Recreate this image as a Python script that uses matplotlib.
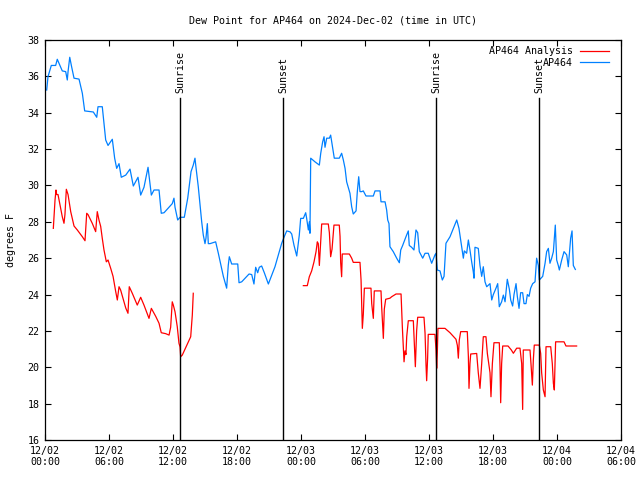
import numpy as np
import matplotlib
matplotlib.use("Agg")
import matplotlib.pyplot as plt
import matplotlib.dates as mdates
import pandas as pd

# hours since 2024-12-02 00:00 UTC
obs_hours = [0.16,0.28,0.59,1.0,1.15,1.62,1.94,2.09,2.16,2.32,2.47,2.72,3.19,3.5,3.72,4.53,4.85,4.97,5.37,5.69,5.91,6.31,6.53,6.72,6.94,7.15,7.57,7.97,8.28,8.72,8.97,9.28,9.66,9.97,10.22,10.69,10.9,11.16,11.93,12.09,12.19,12.44,12.66,13.06,13.38,13.69,13.9,14.06,14.13,14.37,14.69,14.84,15.0,15.09,15.22,15.31,15.47,16.0,16.25,16.72,17.03,17.18,17.28,17.5,18.07,18.19,18.44,19.13,19.38,19.59,19.75,19.94,20.09,20.31,20.56,20.94,21.56,22.19,22.43,22.66,22.97,23.13,23.34,23.6,23.84,23.97,24.22,24.44,24.53,24.69,24.78,24.84,24.87,24.91,25.31,25.72,25.85,26.03,26.16,26.25,26.41,26.66,26.78,26.97,27.12,27.59,27.81,27.97,28.13,28.28,28.59,28.75,28.9,29.16,29.28,29.41,29.53,29.69,29.84,30.09,30.78,30.94,31.41,31.5,31.88,32.03,32.13,32.25,32.34,32.65,32.97,33.22,33.35,33.53,33.84,34.06,34.15,34.37,34.59,34.78,34.94,35.09,35.41,35.63,35.93,36.25,36.56,36.66,36.78,37.03,37.25,37.41,37.59,37.97,38.28,38.6,38.81,39.06,39.22,39.31,39.53,39.69,39.84,40.0,40.15,40.22,40.31,40.62,40.78,40.94,41.09,41.25,41.41,41.72,41.88,42.03,42.28,42.44,42.59,42.81,42.97,43.13,43.34,43.53,43.66,43.84,43.97,44.16,44.28,44.44,44.59,44.78,44.91,45.09,45.22,45.38,45.53,45.72,45.94,46.09,46.25,46.34,46.66,46.88,47.03,47.19,47.34,47.5,47.66,47.84,47.97,48.12,48.22,48.44,48.66,48.91,49.06,49.28,49.41,49.53,49.72]
obs_dewpt = [35.25,35.98,36.6,36.6,36.94,36.3,36.26,35.8,36.26,37.05,36.6,35.9,35.85,35.07,34.1,34.04,33.75,34.33,34.33,32.5,32.2,32.54,31.5,30.94,31.2,30.45,30.57,30.9,29.97,30.45,29.47,29.9,31.0,29.47,29.75,29.75,28.47,28.5,29.0,29.3,28.8,28.1,28.25,28.25,29.3,30.76,31.12,31.5,31.12,29.93,28.0,27.27,26.8,27.1,27.9,26.8,26.8,26.9,26.27,25.0,24.35,25.6,26.08,25.68,25.68,24.65,24.7,25.13,25.1,24.58,25.5,25.2,25.5,25.57,25.2,24.58,25.53,26.82,27.18,27.5,27.45,27.33,26.72,26.12,27.27,28.19,28.19,28.5,28.19,27.55,28.0,27.37,29.38,31.5,31.3,31.12,31.77,32.4,32.68,32.1,32.6,32.6,32.77,32.04,31.5,31.5,31.77,31.4,30.94,30.2,29.57,28.83,28.43,28.6,29.66,30.48,29.66,29.66,29.7,29.42,29.42,29.7,29.7,29.1,29.1,28.65,28.1,27.9,26.63,26.36,26.0,25.75,26.45,26.7,27.18,27.5,26.7,26.6,26.45,27.55,27.4,26.36,26.0,26.27,26.27,25.72,26.18,26.27,25.35,25.3,24.8,25.0,26.82,27.18,27.64,28.1,27.64,26.63,26.0,26.4,26.27,27.0,26.45,25.8,25.26,24.9,26.6,26.54,25.6,25.0,25.53,24.7,24.43,24.6,23.7,24.0,24.35,24.6,23.33,23.6,23.97,23.6,24.84,24.3,23.7,23.37,24.0,24.6,23.9,23.24,24.1,24.1,23.5,23.5,24.0,23.9,24.35,24.6,24.7,26.0,25.6,24.8,25.0,25.72,26.36,26.54,25.72,26.0,26.36,27.82,25.9,25.6,25.35,25.9,26.36,26.18,25.53,27.1,27.5,25.6,25.38]

ana_hours = [0.78,0.84,0.94,1.03,1.09,1.22,1.62,1.78,1.87,2.0,2.16,2.41,2.72,3.03,3.5,3.75,3.91,4.03,4.43,4.75,4.9,5.06,5.22,5.37,5.53,5.75,5.91,6.16,6.38,6.63,6.78,6.94,7.09,7.41,7.57,7.78,7.9,8.19,8.65,8.97,9.28,9.75,9.97,10.38,10.69,10.9,11.31,11.63,11.78,11.93,12.03,12.19,12.4,12.56,12.66,12.72,12.87,13.66,13.81,13.9,
             19.0,
             24.22,24.59,24.78,25.0,25.22,25.41,25.53,25.62,25.72,25.78,25.88,25.94,26.56,26.66,26.78,26.91,27.09,27.59,27.66,27.72,27.81,27.87,28.53,28.75,28.9,29.53,29.63,29.75,29.84,29.94,30.56,30.63,30.78,30.87,31.5,31.56,31.72,31.81,31.94,32.34,32.5,32.91,33.38,33.5,33.66,33.75,33.84,33.91,34.06,34.53,34.62,34.72,34.84,34.94,35.53,35.63,35.72,35.78,35.87,35.93,36.56,36.66,36.72,36.78,36.84,37.5,37.97,38.53,38.66,38.75,38.84,38.97,39.59,39.69,39.75,39.84,39.91,40.47,40.62,40.78,40.94,41.09,41.34,41.47,41.72,41.81,41.94,42.09,42.59,42.66,42.72,42.81,42.91,43.41,43.72,43.91,44.22,44.53,44.69,44.78,44.84,45.47,45.56,45.69,45.78,45.87,46.34,46.47,46.56,46.72,46.88,46.97,47.41,47.56,47.66,47.75,47.87,48.66,48.84,49.84]
ana_dewpt = [27.64,28.2,29.2,29.75,29.5,29.5,28.28,27.92,28.4,29.79,29.5,28.56,27.77,27.55,27.18,26.96,28.47,28.4,27.92,27.46,28.56,28.1,27.75,27.09,26.45,25.8,25.9,25.44,25.0,24.16,23.7,24.43,24.25,23.6,23.26,22.97,24.43,24.06,23.42,23.85,23.42,22.69,23.24,22.8,22.42,21.9,21.85,21.77,22.2,23.6,23.42,23.05,22.23,21.32,21.12,20.58,20.67,21.68,22.87,24.07,
             np.nan,
             24.49,24.49,24.98,25.3,25.8,26.36,26.9,26.8,25.6,26.2,27.27,27.88,27.88,27.4,26.08,26.5,27.82,27.82,27.2,25.75,24.98,26.23,26.23,26.0,25.77,25.77,24.8,22.14,22.9,24.35,24.35,23.5,22.69,24.2,24.2,23.35,21.59,23.2,23.74,23.8,23.88,24.03,24.03,22.23,20.3,20.9,20.7,21.68,22.56,22.56,21.4,20.03,22.0,22.75,22.75,21.87,20.13,19.26,20.5,21.81,21.81,20.95,19.94,20.8,22.14,22.14,21.9,21.54,21.2,20.5,21.5,21.96,21.96,20.6,18.84,20.2,20.73,20.76,19.7,18.84,20.2,21.68,21.68,20.76,19.7,18.38,20.2,21.35,21.35,20.0,18.05,20.2,21.17,21.17,20.95,20.77,21.05,21.05,20.2,17.68,20.95,20.95,20.2,19.02,20.4,21.22,21.22,20.76,19.7,18.75,18.38,21.13,21.13,20.2,19.12,18.75,21.4,21.4,21.17,21.17]

sun_hours = [12.66, 22.31, 36.66, 46.31]
sun_labels = ["Sunrise", "Sunset", "Sunrise", "Sunset"]

base = pd.Timestamp("2024-12-02 00:00")
to_time = lambda h: base + pd.to_timedelta(np.asarray(h, dtype=float), unit="h")

plt.rcParams['font.family'] = ['DejaVu Sans Mono']
FS = 7.2

fig = plt.figure(figsize=(6.4, 4.8), dpi=100)
ax = fig.add_axes([45/640, 40/480, 576/640, 400/480])

ax.plot(to_time(ana_hours), ana_dewpt, color='#ff0000', lw=0.9, label='AP464 Analysis')
ax.plot(to_time(obs_hours), obs_dewpt, color='#0080ff', lw=0.9, label='AP464')

for h, lab in zip(sun_hours, sun_labels):
    t = base + pd.Timedelta(hours=h)
    ax.axvline(t, ymin=0, ymax=0.855, color='black', lw=1.0)
    ax.text(t, 0.868, lab, transform=ax.get_xaxis_transform(), rotation=90,
            ha='center', va='bottom', fontsize=FS)

ax.set_xlim(base, base + pd.Timedelta(hours=54))
ax.set_ylim(16, 38)
ax.set_yticks(np.arange(16, 39, 2))
ax.xaxis.set_major_locator(mdates.HourLocator(byhour=[0, 6, 12, 18]))
ax.xaxis.set_major_formatter(mdates.DateFormatter('%m/%d\n%H:%M'))
ax.tick_params(direction='in', length=4, width=0.8, top=True, right=True,
               labelsize=FS, pad=4)
for s in ax.spines.values():
    s.set_linewidth(0.9)

ax.set_ylabel('degrees F', fontsize=FS, labelpad=8)
ax.set_title('Dew Point for AP464 on 2024-Dec-02 (time in UTC)', fontsize=FS, pad=12)

ax.legend(loc='upper right', bbox_to_anchor=(1.0, 1.0 + 6/400), frameon=False,
          markerfirst=False, fontsize=FS, handlelength=2.9, handletextpad=0.7,
          labelspacing=0.15, borderaxespad=0.8)

fig.savefig('out.png', dpi=100)
